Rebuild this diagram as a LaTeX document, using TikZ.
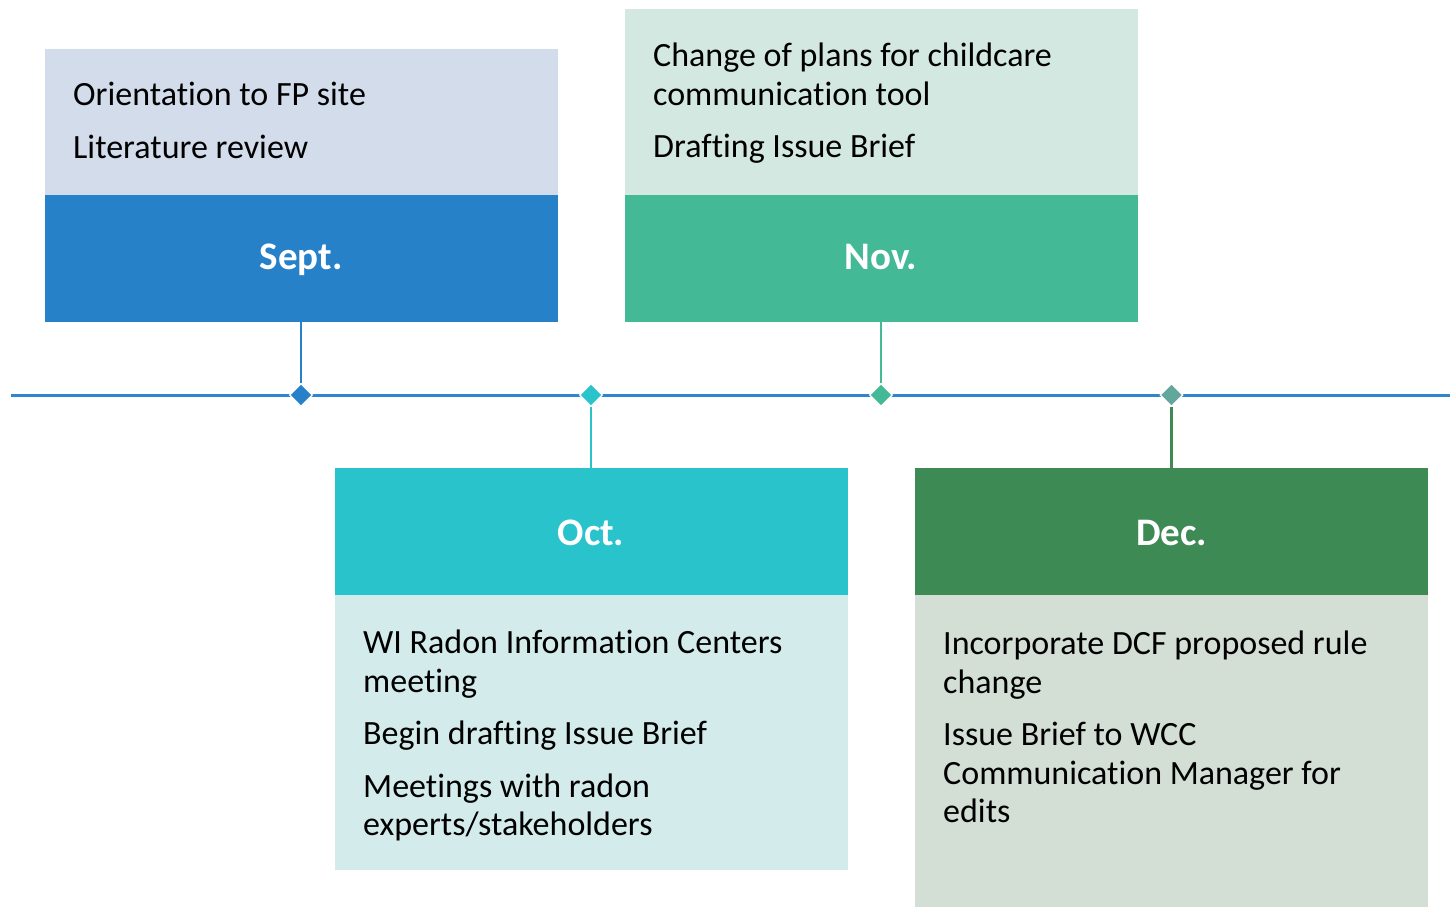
\documentclass[tikz,border=0pt]{standalone}
\usepackage{fontspec}
\setmainfont{Carlito}[Ligatures=NoCommon]
\usetikzlibrary{shapes.geometric}

\definecolor{septdark}{HTML}{2681C8}
\definecolor{septlight}{HTML}{D3DCEB}
\definecolor{octdark}{HTML}{29C3CB}
\definecolor{octlight}{HTML}{D3EBEB}
\definecolor{novdark}{HTML}{43B995}
\definecolor{novlight}{HTML}{D3E8E0}
\definecolor{decdark}{HTML}{3E8A55}
\definecolor{declight}{HTML}{D3DED5}
\definecolor{decmark}{HTML}{62A79C}
\definecolor{axisblue}{HTML}{2E86D1}

\begin{document}
\begin{tikzpicture}[x=1pt, y=-1pt]
  \tikzset{
    month/.style={rectangle, minimum width=513pt, minimum height=127pt,
      inner sep=0pt, text=white, text height=22pt, text depth=0pt,
      font=\fontsize{39}{46}\selectfont\bfseries},
    lowmonth/.style={month, text height=28pt},
    body/.style={rectangle, minimum width=513pt, inner sep=0pt},
    items/.style={anchor=north west, inner sep=0pt, align=left,
      font=\fontsize{34}{38.5}\selectfont, execute at begin node=\strut},
    stop/.style={diamond, draw=white, line width=1.2pt, minimum size=23pt, inner sep=0pt},
    stem/.style={line width=2.4pt}
  }
  \useasboundingbox (0,0) rectangle (1450,906);

  % time axis
  \coordinate (axisstart) at (11,395);
  \coordinate (axisend) at (1450,395);
  \draw[axisblue, line width=3pt] (axisstart) -- (axisend);

  % Sept.
  \node[body, fill=septlight, minimum height=146pt] (septbody) at (301,122) {};
  \node[month, fill=septdark] (septhead) at (301,258.5) {Sept.};
  \node[items] (septtext) at (73,82)
    {Orientation to FP site\\[14pt]
     Literature review};
  \node[stop, fill=septdark] (septstop) at (301,395) {};
  \draw[stem, septdark] (septhead.south) -- (septstop.north);

  % Oct.
  \node[lowmonth, fill=octdark] (octhead) at (591,531.5) {Oct.};
  \node[body, fill=octlight, minimum height=275pt] (octbody) at (591,732.5) {};
  \node[items] (octtext) at (363,630)
    {WI Radon Information Centers\\
     meeting\\[14pt]
     Begin drafting Issue Brief\\[14pt]
     Meetings with radon\\
     experts/stakeholders};
  \node[stop, fill=octdark] (octstop) at (591,395) {};
  \draw[stem, octdark] (octstop.south) -- (octhead.north);

  % Nov.
  \node[body, fill=novlight, minimum height=186pt] (novbody) at (881,102) {};
  \node[month, fill=novdark] (novhead) at (881,258.5) {Nov.};
  \node[items] (novtext) at (653,43)
    {Change of plans for childcare\\
     communication tool\\[14pt]
     Drafting Issue Brief};
  \node[stop, fill=novdark] (novstop) at (881,395) {};
  \draw[stem, novdark] (novhead.south) -- (novstop.north);

  % Dec.
  \node[lowmonth, fill=decdark] (dechead) at (1171.5,531.5) {Dec.};
  \node[body, fill=declight, minimum height=320pt] (decbody) at (1171.5,755) {};
  \node[items] (dectext) at (943,631)
    {Incorporate DCF proposed rule\\
     change\\[14pt]
     Issue Brief to WCC\\
     Communication Manager for\\
     edits};
  \node[stop, fill=decmark] (decstop) at (1171.5,395) {};
  \draw[stem, decdark] (decstop.south) -- (dechead.north);
\end{tikzpicture}
\end{document}
